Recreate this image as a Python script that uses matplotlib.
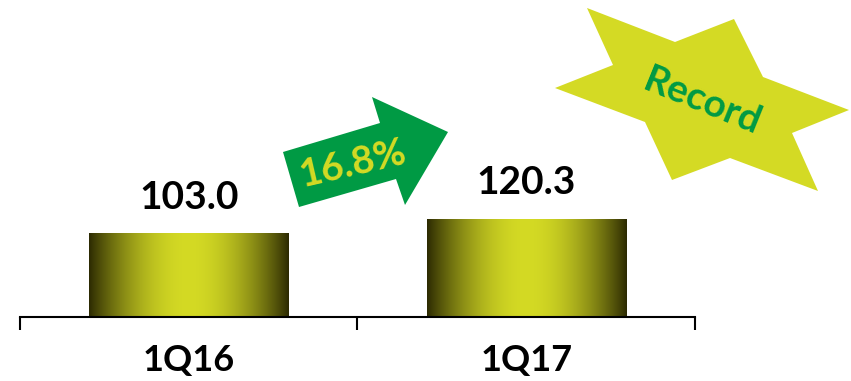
import matplotlib.pyplot as plt
import numpy as np
from matplotlib.patches import Polygon
from matplotlib.colors import to_rgb

plt.rcParams['font.family'] = ['Lato', 'DejaVu Sans']

# data
quarters = ['1Q16', '1Q17']
values = [103.0, 120.3]
growth_label = '16.8%'
badge_label = 'Record'

DARK = '#2c2a02'
BRIGHT = '#d4da24'
GREEN = '#009a44'

W, H = 851, 381
fig = plt.figure(figsize=(W / 100, H / 100), dpi=100)
ax = fig.add_axes([20 / W, 64 / H, 675 / W, 317 / H])

x = np.arange(len(quarters))
bars = ax.bar(x, values, width=0.59, color='none', edgecolor='none')

# horizontal gradient: dark edges, bright centre
t = np.linspace(0, 1, 256)
w = np.sin(np.pi * t) ** 0.9
c0, c1 = np.array(to_rgb(DARK)), np.array(to_rgb(BRIGHT))
grad = (c0[None, :] * (1 - w[:, None]) + c1[None, :] * w[:, None])[None, :, :]
for b in bars:
    x0, y0, bw, bh = b.get_x(), b.get_y(), b.get_width(), b.get_height()
    im = ax.imshow(grad, extent=[x0, x0 + bw, y0, y0 + bh], aspect='auto',
                   zorder=2, interpolation='bilinear')
    im.set_clip_path(b)
    ax.annotate(f'{b.get_height():.1f}', (x0 + bw / 2, y0 + bh),
                xytext=(0, 36), textcoords='offset pixels',
                ha='center', va='center', fontsize=28, fontweight='bold')

ax.set_xlim(-0.5, 1.5)
ax.set_ylim(0, 389)
ax.set_xticks([-0.5, 0.5, 1.5], minor=False)
ax.set_xticklabels([])
ax.tick_params(axis='x', length=9, width=1.5, direction='out')
ax.set_yticks([])
for s in ['left', 'right', 'top']:
    ax.spines[s].set_visible(False)
ax.spines['bottom'].set_linewidth(1.5)
for xi, q in zip(x, quarters):
    ax.annotate(q, (xi, 0), xytext=(0, -43), textcoords='offset pixels',
                ha='center', va='center', fontsize=26, fontweight='bold')

# overlay in pixel coords for the arrow and star badge
ov = fig.add_axes([0, 0, 1, 1], zorder=5)
ov.set_xlim(0, W)
ov.set_ylim(H, 0)
ov.axis('off')

arrow = [(283, 152), (380, 123), (372, 97), (448, 132),
         (405, 205), (396, 179), (299, 207)]
ov.add_patch(Polygon(arrow, closed=True, fc=GREEN, ec='none'))
ov.text(353, 164, growth_label, rotation=13, ha='center', va='center',
        fontsize=28, fontweight='bold', color=BRIGHT)

star = [(587, 8), (675, 42), (734, 19), (763, 77), (849, 110), (792, 133),
        (818, 191), (730, 158), (672, 180), (645, 122), (555, 88), (613, 65)]
ov.add_patch(Polygon(star, closed=True, fc=BRIGHT, ec='none'))
ov.text(702, 101, badge_label, rotation=-22, ha='center', va='center',
        fontsize=28, fontweight='bold', color=GREEN)

fig.savefig('out.png', dpi=100)
